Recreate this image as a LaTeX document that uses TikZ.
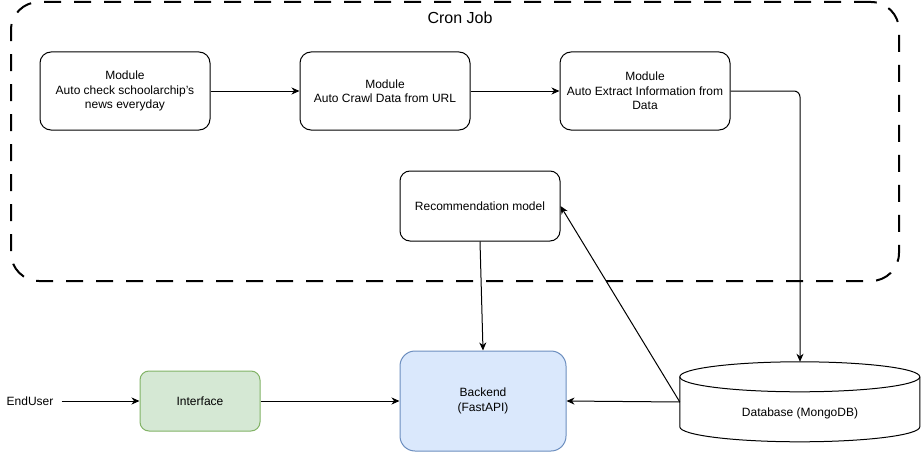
\documentclass[tikz,border=0pt]{standalone}
\usepackage{fontspec}
\setmainfont{Liberation Sans}
\usetikzlibrary{arrows.meta}
\definecolor{bluefill}{HTML}{DAE8FC}
\definecolor{bluedraw}{HTML}{6C8EBF}
\definecolor{greenfill}{HTML}{D5E8D4}
\definecolor{greendraw}{HTML}{82B366}
\tikzset{
  txt/.style={font=\fontsize{12}{14.4}\selectfont, align=center},
  box/.style={txt, draw=black, line width=1pt, rounded corners=11pt, inner sep=0pt},
  modbox/.style={box, minimum width=170pt, minimum height=78pt},
  cronbox/.style={draw=black, line width=2pt, dash pattern=on 17pt off 13pt, rounded corners=28pt, minimum width=888pt, minimum height=279pt, inner sep=0pt},
  arr/.style={draw=black, line width=1pt, -{Stealth[length=8pt,width=7pt,inset=2.5pt]}},
  plain/.style={draw=none, inner sep=0pt},
}
\begin{document}
\begin{tikzpicture}[x=1pt,y=-1pt]
\useasboundingbox (0,0) rectangle (921,452);
\fill[white] (0,0) rectangle (921,452);
% Cron job container
\node[cronbox] (cron) at (455,141.5) {};
\node[txt, font=\fontsize{16}{19}\selectfont] (cronlbl) at (460,18) {Cron Job};
% modules
\node[modbox] (m1) at (125,91) {Module\\Auto check schoolarchip's\\news everyday};
\node[modbox] (m2) at (385,91) {Module\\Auto Crawl Data from URL};
\node[modbox] (m3) at (645,91) {Module\\Auto Extract Information from\\Data};
% recommendation
\node[box, minimum width=160pt, minimum height=70pt, rounded corners=10pt] (rec) at (480,206) {Recommendation model};
% backend
\node[box, draw=bluedraw, fill=bluefill, minimum width=166pt, minimum height=100pt, rounded corners=15pt] (be) at (483,401) {Backend\\(FastAPI)};
% interface
\node[box, draw=greendraw, fill=greenfill, minimum width=120pt, minimum height=60pt, rounded corners=9pt] (ui) at (200,401) {Interface};
% end user
\node[txt, inner xsep=8pt, inner ysep=0pt] (eu) at (30,401) {EndUser};
% database cylinder
\node[plain, minimum width=240pt, minimum height=80pt] (db) at (800,402) {};
\draw[line width=1pt, fill=white] (db.north west) ++(0,15) arc[start angle=180, end angle=360, x radius=120pt, y radius=-15pt]
  -- ++(0,50) arc[start angle=0, end angle=180, x radius=120pt, y radius=-15pt] -- cycle;
\draw[line width=1pt] (db.north west) ++(0,15) arc[start angle=180, end angle=0, x radius=120pt, y radius=-15pt];
\node[txt] (dblbl) at (800,413) {Database (MongoDB)};
% connectors
\draw[arr] (m1) -- (m2);
\draw[arr] (m2) -- (m3);
\draw[arr, rounded corners=6pt] (m3.east) -| (db.north);
\draw[arr] (rec.south) -- (be.north);
\draw[arr] (db.west) -- (rec.east);
\draw[arr] (db.west) -- (be.east);
\draw[arr] (eu.east) -- (ui.west);
\draw[arr] (ui.east) -- (be.west);
\end{tikzpicture}
\end{document}
